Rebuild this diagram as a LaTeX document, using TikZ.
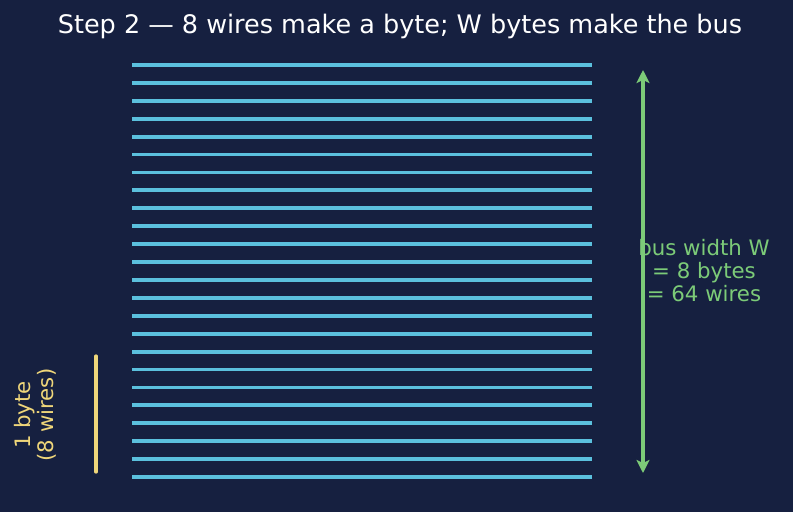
\documentclass[tikz,border=0pt]{standalone}
\usepackage{fontspec}
\setmainfont{DejaVu Sans}
\usetikzlibrary{arrows.meta}
\definecolor{bg}{HTML}{162040}
\definecolor{wire}{HTML}{5BC0DE}
\definecolor{grn}{HTML}{7CCB78}
\definecolor{yel}{HTML}{EFD67A}
\tikzset{
  wireline/.style={draw=wire, line width=3.8pt},
  bytebar/.style={draw=yel, line width=3.2pt, line cap=round},
  busarrow/.style={draw=grn, line width=3.6pt, {Stealth[length=13pt,width=13pt,inset=3pt]}-{Stealth[length=13pt,width=13pt,inset=3pt]}},
  lbl/.style={font=\fontsize{21.3}{23}\selectfont, align=center, inner sep=0pt}
}
\begin{document}
\begin{tikzpicture}[x=1pt,y=-1pt]
\fill[bg] (0,0) rectangle (793,512);
\useasboundingbox (0,0) rectangle (793,512);
\node[text=white, font=\fontsize{25.5}{28}\selectfont, inner sep=0pt] (title) at (400,26) {Step 2 — 8 wires make a byte; W bytes make the bus};
\foreach \i in {0,...,23} {
  \coordinate (wl\i) at (132,{65+\i*17.913});
  \coordinate (wr\i) at (592,{65+\i*17.913});
  \draw[wireline] (wl\i) -- (wr\i);
}
\coordinate (bt) at (96,356);
\coordinate (bb) at (96,472);
\draw[bytebar] (bt) -- (bb);
\node[lbl, text=yel, rotate=90] (bytelbl) at (35,415) {1 byte\\(8 wires)};
\node[lbl, text=grn] (buslbl) at (704,271) {bus width W\\= 8 bytes\\= 64 wires};
\coordinate (at) at (643,70);
\coordinate (ab) at (643,473);
\draw[busarrow] (at) -- (ab);
\end{tikzpicture}
\end{document}
